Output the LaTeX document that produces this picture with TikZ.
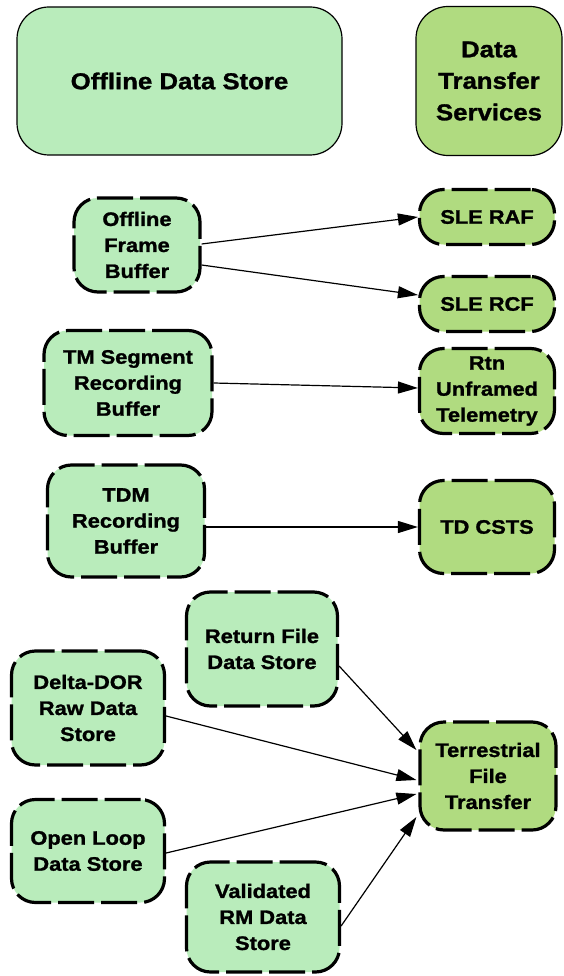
\documentclass[tikz,border=0pt]{standalone}
\usepackage{fontspec}
\setmainfont[FakeStretch=1.12, BoldFeatures={FakeStretch=1.12, FakeBold=1.3}]{Liberation Sans}
\usetikzlibrary{arrows.meta}
\definecolor{storegreen}{RGB}{185,236,187}
\definecolor{servgreen}{RGB}{176,219,128}

\begin{document}
\begin{tikzpicture}[x = 1pt, y = -1pt,
	store/.style = {draw, line width=3.2pt, dash pattern=on 36pt off 7pt, rounded corners=24pt, fill=storegreen, align=center, inner sep=0pt, font=\fontsize{19.5}{26}\selectfont\bfseries},
	serv/.style = {store, fill=servgreen},
	heading/.style = {draw, line width=1.2pt, rounded corners=32pt, align=center, inner sep=0pt, font=\fontsize{23}{31.5}\selectfont\bfseries},
	flow/.style = {-{Triangle[length=20pt,width=12pt]}, line width=1.2pt},]
		\useasboundingbox (0,0) rectangle (563,976);

		\node[heading, fill=storegreen, minimum width=325pt, minimum height=148pt] (ODS) at (179.5,81) {Offline Data Store};
		\node[heading, fill=servgreen, minimum width=146pt, minimum height=149pt] (DTS) at (489,81) {Data\\Transfer\\Services};

		\node[store, minimum width=126pt, minimum height=94pt] (OFB) at (137,245) {Offline\\Frame\\Buffer};
		\node[store, minimum width=168pt, minimum height=105pt] (TMS) at (128,383) {TM Segment\\Recording\\Buffer};
		\node[store, minimum width=157pt, minimum height=112pt] (TDM) at (126,521) {TDM\\Recording\\Buffer};
		\node[store, minimum width=151pt, minimum height=114pt] (RFD) at (262,649) {Return File\\Data Store};
		\node[store, minimum width=153pt, minimum height=114pt] (DDOR) at (88,708) {Delta-DOR\\Raw Data\\Store};
		\node[store, minimum width=153pt, minimum height=103pt] (OLD) at (88,851) {Open Loop\\Data Store};
		\node[store, minimum width=153pt, minimum height=110pt] (VRM) at (263,917) {Validated\\RM Data\\Store};

		\node[serv, minimum width=135pt, minimum height=55pt] (RAF) at (487,217) {SLE RAF};
		\node[serv, minimum width=135pt, minimum height=55pt] (RCF) at (487,304) {SLE RCF};
		\node[serv, minimum width=135pt, minimum height=85pt] (RUT) at (487,391) {Rtn\\Unframed\\Telemetry};
		\node[serv, minimum width=135pt, minimum height=93pt] (TDC) at (487,527) {TD CSTS};
		\node[serv, minimum width=136pt, minimum height=108pt] (TFT) at (488,776) {Terrestrial\\File\\Transfer};

		\draw[flow] ([yshift=1pt]OFB.east) -- (RAF.west);
		\draw[flow] ([yshift=-20pt]OFB.east) -- ([yshift=9pt]RCF.west);
		\draw[flow] (TMS.east) -- ([yshift=3pt]RUT.west);
		\draw[flow] ([yshift=-6pt]TDM.east) -- (TDC.west);
		\draw[flow] ([yshift=-17pt]RFD.east) -- ([xshift=-2pt,yshift=26pt]TFT.west);
		\draw[flow] ([yshift=-8pt]DDOR.east) -- ([xshift=-2pt,yshift=-4pt]TFT.west);
		\draw[flow] ([yshift=-2pt]OLD.east) -- ([xshift=-2pt,yshift=-18pt]TFT.west);
		\draw[flow] ([yshift=-9pt]VRM.east) -- ([xshift=-2pt,yshift=-41pt]TFT.west);
	\end{tikzpicture}
\end{document}
